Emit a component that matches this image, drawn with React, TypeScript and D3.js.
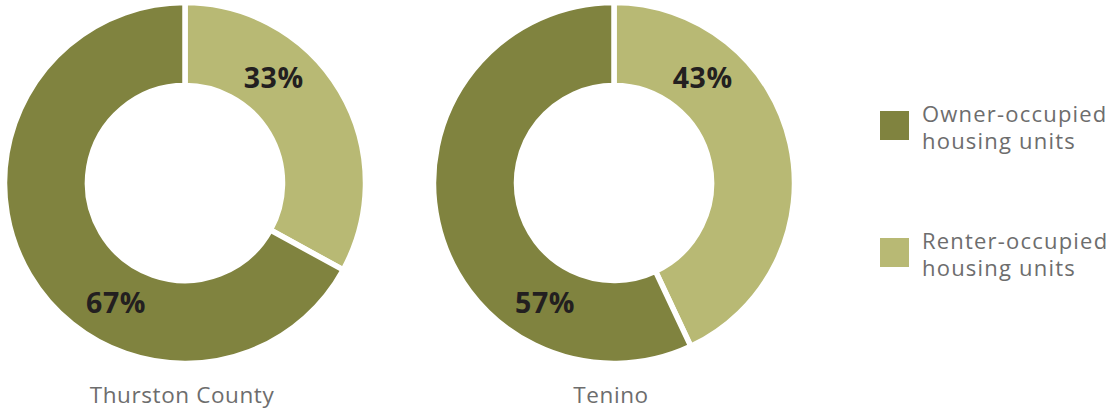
import React from 'react';
import * as d3 from 'd3';

// Share of housing units by tenure
const places = ['Thurston County', 'Tenino'];
const ownerShare = [67, 57];
const renterShare = [33, 43];

const legendLabels = [
  ['Owner-occupied', 'housing units'],
  ['Renter-occupied', 'housing units'],
];

const colors = { owner: '#80833f', renter: '#b8b974' };

const W = 1115;
const H = 410;
const FONT = "'Open Sans', 'Noto Sans', sans-serif";

const App: React.FC = () => {
  const outerR = 180.5;
  const innerR = 97.5;
  const cy = 183;
  const x = d3.scalePoint<string>().domain(places).range([185, 614]);

  const arc = d3.arc<d3.PieArcDatum<{ key: string; value: number }>>()
    .innerRadius(innerR)
    .outerRadius(outerR);

  // renter first, clockwise from 12 o'clock
  const pie = d3.pie<{ key: string; value: number }>()
    .sort(null)
    .value(d => d.value);

  const labelR = 138;
  const labelAngle: Record<string, number> = { renter: 40, owner: 210 };

  return (
    <svg width={W} height={H} style={{ position: 'absolute', left: 0, top: 0 }}>
      <rect width={W} height={H} fill="#fff" />
      {places.map((p, i) => {
        const slices = pie([
          { key: 'renter', value: renterShare[i] },
          { key: 'owner', value: ownerShare[i] },
        ]);
        const cx = x(p)!;
        return (
          <g key={p} transform={`translate(${cx},${cy})`}>
            {slices.map(s => (
              <path
                key={s.data.key}
                d={arc(s) || ''}
                fill={colors[s.data.key as 'owner' | 'renter']}
                stroke="#fff"
                strokeWidth={5.5}
                strokeLinejoin="miter"
              />
            ))}
            {slices.map(s => {
              const a = (labelAngle[s.data.key] * Math.PI) / 180;
              return (
                <text
                  key={'l' + s.data.key}
                  x={Math.sin(a) * labelR}
                  y={-Math.cos(a) * labelR}
                  dy="0.36em"
                  textAnchor="middle"
                  fontFamily={FONT}
                  fontWeight={700}
                  fontSize={28.5}
                  letterSpacing={0.5}
                  fill="#231f20"
                >
                  {s.data.value}%
                </text>
              );
            })}
            <text
              x={-3}
              y={220}
              textAnchor="middle"
              fontFamily={FONT}
              fontSize={22.5}
              letterSpacing={0.6}
              fill="#6d6d6d"
            >
              {p}
            </text>
          </g>
        );
      })}
      {legendLabels.map((lines, i) => {
        const y0 = 111 + i * 127;
        return (
          <g key={i} transform={`translate(880,${y0})`}>
            <rect width={29} height={29} fill={i === 0 ? colors.owner : colors.renter} />
            {lines.map((t, j) => (
              <text
                key={j}
                x={42}
                y={11 + j * 27}
                fontFamily={FONT}
                fontSize={22}
                letterSpacing={1.2}
                fill="#6d6d6d"
              >
                {t}
              </text>
            ))}
          </g>
        );
      })}
    </svg>
  );
};

export default App;
